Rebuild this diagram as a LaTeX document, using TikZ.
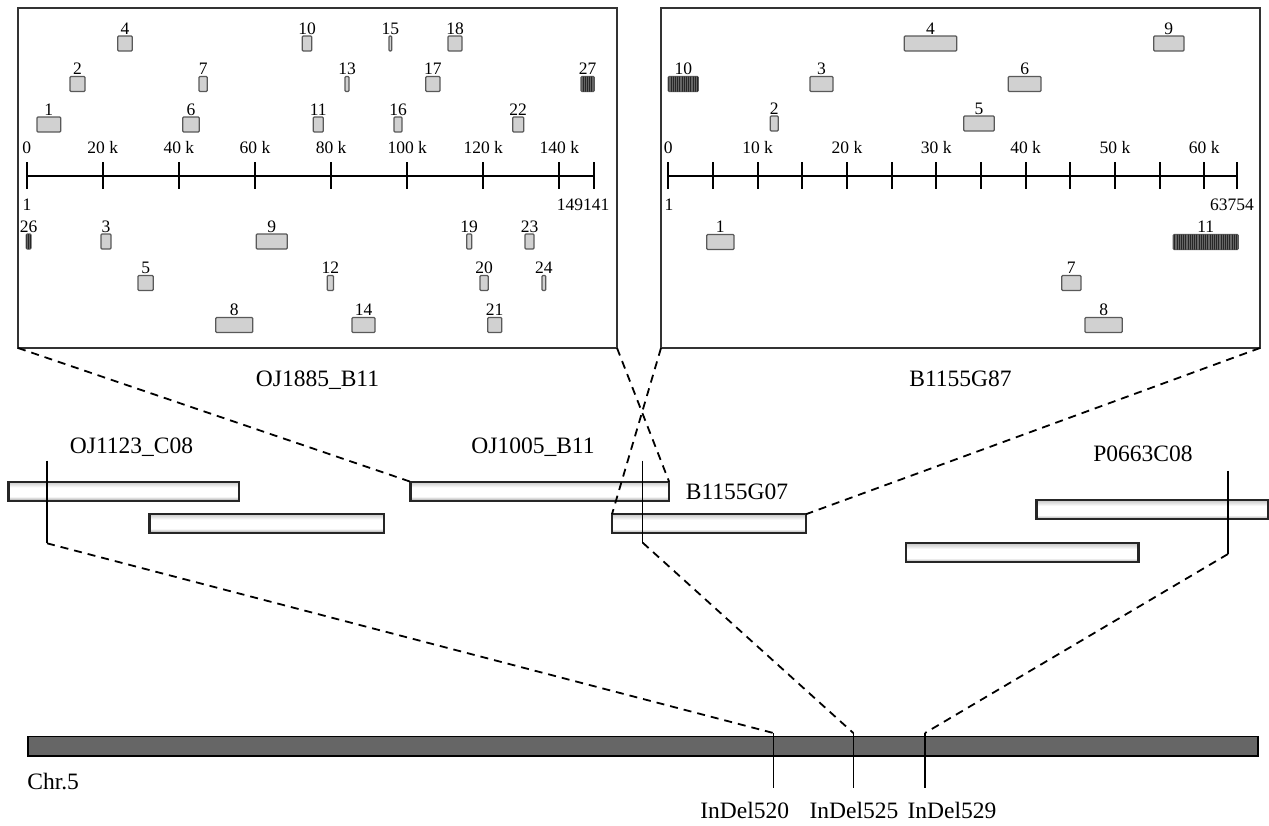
\documentclass[tikz,border=0pt]{standalone}
\usepackage{fontspec}
\setmainfont{Liberation Serif}
\usetikzlibrary{positioning,patterns.meta}

% BAC bar: grey rims, white core
\pgfdeclareverticalshading{bacshade}{100bp}{color(0bp)=(black!38); color(25bp)=(black!38);
  color(36bp)=(white); color(60bp)=(white); color(75bp)=(black!22); color(100bp)=(black!22)}

\begin{document}
\begin{tikzpicture}[
    x=0.5pt, y=-0.5pt,
    font=\fontsize{8.75}{10}\selectfont,
    frame/.style={draw=black!80, line width=1.1pt, inner sep=0pt, outer sep=0pt,
                  minimum width=299.5pt, minimum height=170pt},
    gene/.style={draw=black!65, fill=black!18, rounded corners=0.5pt, line width=0.6pt,
                 inner sep=0pt, outer sep=0pt, minimum height=7.5pt},
    dark/.style={fill=black!60, postaction={pattern={Lines[angle=90,distance=1.1pt,line width=0.35pt]},
                 pattern color=black!85}},
    num/.style={inner sep=0.6pt},
    bac/.style={draw=black!85, line width=1.1pt, inner sep=0pt, outer sep=0pt, minimum height=9.5pt,
                shading=bacshade},
    big/.style={font=\fontsize{11.75}{14}\selectfont, inner sep=0pt},
    axis/.style={line width=1pt},
    marker/.style={line width=0.7pt},
    link/.style={dash pattern=on 4pt off 3pt, line width=0.9pt},
  ]
    \useasboundingbox (0,0) rectangle (1269,825);

    % Zoomed BAC frames
    \node[frame] (Lbox) at (317.5,178) {};
    \node[frame] (Rbox) at (960.5,178) {};
    \node[big, below=11pt of Lbox] (Lname) {OJ1885\_B11};
    \node[big, below=11pt of Rbox] (Rname) {B1155G87};

    % Left scale (149141 bp)
    \draw[axis] (26.7,176) -- (594.3,176);
    \foreach \k in {0,20,...,140}
      \draw[axis] ({26.7+3.805*\k},162) -- ({26.7+3.805*\k},189);
    \draw[axis] (594.3,162) -- (594.3,189);
    \node (lt0) at (26.7,148) {0};
    \foreach \k in {20,40,...,140}
      \node (lt\k) at ({26.7+3.805*\k},148) {\k\ k};
    \node (lstart) at (27,205) {1};
    \node (lend) at (583,205) {149141};

    % Right scale (63754 bp)
    \draw[axis] (668.3,176) -- (1237.3,176);
    \foreach \k in {0,5,...,60}
      \draw[axis] ({668.3+8.933*\k},162) -- ({668.3+8.933*\k},189);
    \draw[axis] (1237.3,162) -- (1237.3,189);
    \node (rt0) at (668.3,148) {0};
    \foreach \k in {10,20,...,60}
      \node (rt\k) at ({668.3+8.933*\k},148) {\k\ k};
    \node (rstart) at (669,205) {1};
    \node (rend) at (1232,205) {63754};

    % Left genes: number / start / end / row
    \foreach \n/\a/\b/\r in {1/37/60.7/124.5, 2/70/85/84, 3/101/111/241.5, 4/117.7/132.3/43.5,
        5/138/153.3/283, 6/182.7/199.3/124.5, 7/199/207.3/84, 8/215.7/252.7/325,
        9/256.3/287.3/241.5, 10/302.3/311.7/43.5, 11/313.3/323.3/124.5, 12/327.3/333.5/283,
        13/345/349/84, 14/352/375/325, 15/389/391.7/43.5, 16/394/402/124.5,
        17/425.7/440/84, 18/448/462/43.5, 19/466.7/471.7/241.5, 20/480/488.3/283,
        21/487.7/501.7/325, 22/512.7/523.7/124.5, 23/525/534/241.5, 24/542/545.7/283} {
      \pgfmathsetmacro\w{(\b-\a)*0.5}
      \node[gene, minimum width=\w pt, label={[num]above:\n}] (L\n) at ({(\a+\b)/2},\r) {};
    }
    \node[gene, dark, minimum width=2.35pt, label={[num]above:26}] (L26) at (28.65,241.5) {};
    \node[gene, dark, minimum width=6.65pt, label={[num]above:27}] (L27) at (587.65,84) {};

    % Right genes
    \foreach \n/\a/\b/\r in {1/706.7/734/242, 2/770.3/778.3/123.5, 3/810/833/84,
        4/904.3/956.7/43.5, 5/963.7/994.3/123.5, 6/1008.3/1041/84,
        7/1061.7/1081/283, 8/1085/1122.3/325, 9/1153.7/1184/43.5} {
      \pgfmathsetmacro\w{(\b-\a)*0.5}
      \node[gene, minimum width=\w pt, label={[num]above:\n}] (R\n) at ({(\a+\b)/2},\r) {};
    }
    \node[gene, dark, minimum width=15pt, label={[num]above:10}] (R10) at (683.3,84) {};
    \node[gene, dark, minimum width=32.5pt, label={[num]above:11}] (R11) at (1205.8,242) {};

    % BAC contig
    \node[bac, minimum width=115.1pt] (cA) at (123.5,491.2) {};
    \node[bac, minimum width=117.2pt] (cB) at (266.6,523.3) {};
    \node[bac, minimum width=129.35pt] (cC) at (539.75,491.2) {};
    \node[bac, minimum width=97pt] (cD) at (709,523.7) {};
    \node[bac, minimum width=115.8pt] (cE) at (1152.2,509.7) {};
    \node[bac, minimum width=116.05pt] (cF) at (1022.35,552.8) {};
    \node[big] (nA) at (131.5,446.7) {OJ1123\_C08};
    \node[big] (nC) at (533,446.7) {OJ1005\_B11};
    \node[big] (nD) at (737,491.7) {B1155G07};
    \node[big] (nE) at (1143,453.3) {P0663C08};

    % Marker positions on BACs
    \coordinate (m1t) at (47,460.7);   \coordinate (m1b) at (47,543.3);
    \coordinate (m2t) at (642.7,460.7); \coordinate (m2b) at (642.7,542.7);
    \coordinate (m3t) at (1228,470.7);  \coordinate (m3b) at (1228,554);
    \draw[marker] (m1t) -- (m1b);
    \draw[marker] (m2t) -- (m2b);
    \draw[marker] (m3t) -- (m3b);

    % Chromosome
    \node[draw=black, line width=0.9pt, fill=black!60, inner sep=0pt, outer sep=0pt,
          minimum width=615pt, minimum height=9.6pt] (chr) at (643,746.1) {};
    \node[big, anchor=west] (chrname) at (27,782) {Chr.5};
    \coordinate (i520t) at (773.3,733); \coordinate (i520b) at (773.3,788.3);
    \coordinate (i525t) at (853.3,733); \coordinate (i525b) at (853.3,788.3);
    \coordinate (i529t) at (925,733);   \coordinate (i529b) at (925,788.3);
    \draw[marker] (i520t) -- (i520b);
    \draw[marker] (i525t) -- (i525b);
    \draw[marker] (i529t) -- (i529b);
    \node[big] (t520) at (744.7,810) {InDel520};
    \node[big] (t525) at (854,810) {InDel525};
    \node[big] (t529) at (952,810) {InDel529};

    % Dashed links
    \draw[link] (Lbox.south west) -- (cC.north west);
    \draw[link] (Lbox.south east) -- (cC.north east);
    \draw[link] (Rbox.south west) -- (cD.north west);
    \draw[link] (Rbox.south east) -- (cD.north east);
    \draw[link] (m1b) -- (i520t);
    \draw[link] (m2b) -- (i525t);
    \draw[link] (m3b) -- (i529t);
  \end{tikzpicture}
\end{document}
